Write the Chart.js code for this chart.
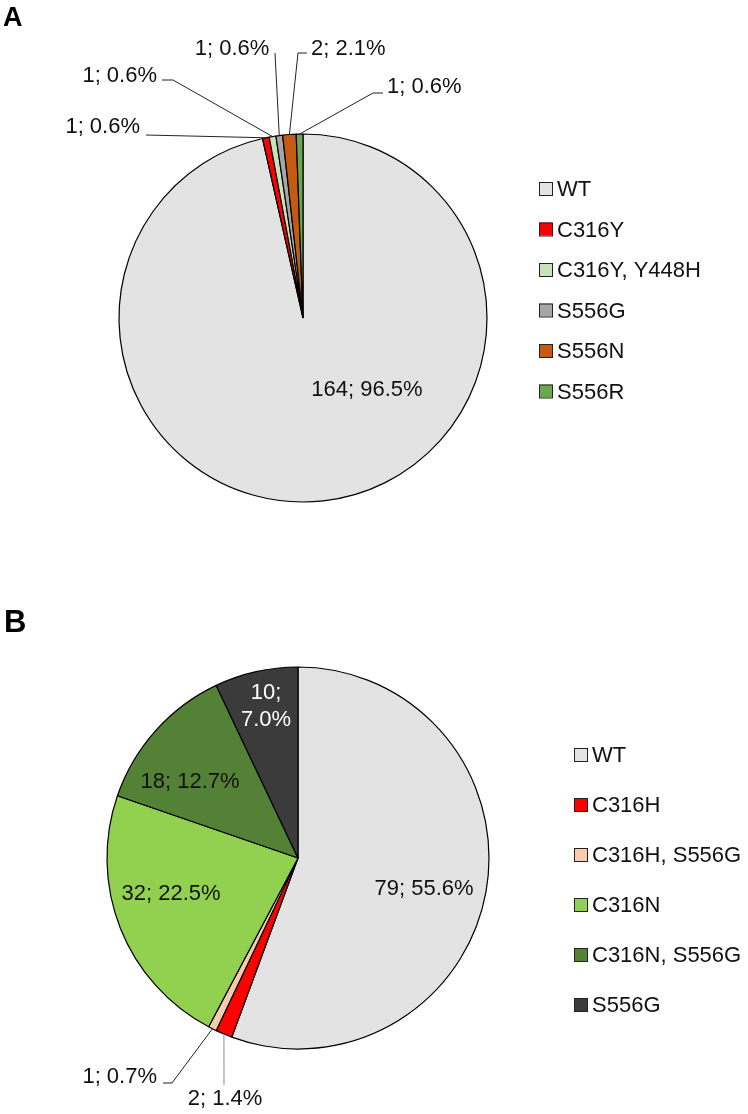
<!DOCTYPE html>
<html>
<head>
<meta charset="utf-8">
<script src="https://cdn.jsdelivr.net/npm/chart.js@4.4.1/dist/chart.umd.min.js"></script>
<style>
  body { margin: 0; background: #fff; width: 748px; height: 1114px; overflow: hidden; }
  canvas { position: absolute; left: 0; }
  #chartA { top: 0; }
  #chartB { top: 557px; }
</style>
</head>
<body>
<canvas id="chartA" width="748" height="557"></canvas>
<canvas id="chartB" width="748" height="557"></canvas>
<script>
// PANEL A
const categoriesA = ["WT", "C316Y", "C316Y, Y448H", "S556G", "S556N", "S556R"]
const countsA = [164, 1, 1, 1, 2, 1]
const percentsA = ["96.5%", "0.6%", "0.6%", "0.6%", "2.1%", "0.6%"]
const colorsA = ["#e3e3e3", "#ff0000", "#c8e2bb", "#a6a6a6", "#c55a11", "#6aa84f"]

// PANEL B
const categoriesB = ["WT", "C316H", "C316H, S556G", "C316N", "C316N, S556G", "S556G"]
const countsB = [79, 2, 1, 32, 18, 10]
const percentsB = ["55.6%", "1.4%", "0.7%", "22.5%", "12.7%", "7.0%"]
const colorsB = ["#e3e3e3", "#ff0000", "#f8cbad", "#92d050", "#538135", "#3b3b3b"]

const FONT = '"Liberation Sans", Arial, sans-serif'

// label placement: text anchor, alignment and leader line bends (canvas px)
const labelLayoutA = [
    { x: 367, y: 396, align: "center" },
    { x: 140, y: 133, align: "right", line: [[146, 135]] },
    { x: 157, y: 82, align: "right", line: [[162, 80], [173, 80]] },
    { x: 232, y: 55, align: "center", line: [[275, 53]] },
    { x: 311, y: 55, align: "left", line: [[307, 53], [298, 53]] },
    { x: 387, y: 93, align: "left", line: [[383, 93], [373, 93]] }
]
const labelLayoutB = [
    { x: 424, y: 338, align: "center" },
    { x: 225, y: 548, align: "center", line: [[224, 528]], lineColor: "#8c8c8c" },
    { x: 157, y: 526, align: "right", line: [[163, 526], [172, 526]] },
    { x: 171, y: 343, align: "center" },
    { x: 190, y: 231, align: "center" },
    { x: 266, y: 142, align: "center", wrap: true, color: "#ffffff" }
]

const sliceLabels = {
    id: "sliceLabels",
    afterDatasetsDraw(chart, args, opts) {
        const ctx = chart.ctx
        const arcs = chart.getDatasetMeta(0).data
        ctx.save()
        ctx.font = "22px " + FONT
        ctx.textBaseline = "alphabetic"
        opts.layout.forEach((lab, i) => {
            const text = opts.counts[i] + "; " + opts.percents[i]
            if (lab.line) {
                const a = arcs[i].getProps(["x", "y", "startAngle", "endAngle", "outerRadius"], true)
                const mid = (a.startAngle + a.endAngle) / 2
                ctx.beginPath()
                ctx.strokeStyle = lab.lineColor || "#222"
                ctx.lineWidth = 1
                ctx.moveTo(lab.line[0][0], lab.line[0][1])
                lab.line.slice(1).forEach(p => ctx.lineTo(p[0], p[1]))
                ctx.lineTo(a.x + Math.cos(mid) * a.outerRadius, a.y + Math.sin(mid) * a.outerRadius)
                ctx.stroke()
            }
            ctx.fillStyle = lab.color || "#111"
            ctx.textAlign = lab.align
            if (lab.wrap) {
                ctx.fillText(opts.counts[i] + ";", lab.x, lab.y)
                ctx.fillText(opts.percents[i], lab.x, lab.y + 27)
            } else {
                ctx.fillText(text, lab.x, lab.y)
            }
        })

        // LEGEND
        const lg = opts.legend
        chart.data.labels.forEach((name, i) => {
            const by = lg.y + i * lg.step
            ctx.fillStyle = chart.data.datasets[0].backgroundColor[i]
            ctx.fillRect(lg.x, by - 14, 13, 13)
            ctx.strokeStyle = "#222"
            ctx.lineWidth = 1
            ctx.strokeRect(lg.x + 0.5, by - 13.5, 13, 13)
            ctx.fillStyle = "#111"
            ctx.textAlign = "left"
            ctx.fillText(name, lg.x + 18, by)
        })

        // PANEL LETTER
        ctx.font = "bold " + opts.title.size + "px " + FONT
        ctx.fillStyle = "#000"
        ctx.fillText(opts.title.text, opts.title.x, opts.title.y)
        ctx.restore()
    }
}

function buildPie(canvasId, categories, counts, colors, extra) {
    const data = {
        labels: categories,
        datasets: [{
            data: counts,
            backgroundColor: colors,
            borderColor: "#000",
            borderWidth: 1.2
        }]
    }
    return new Chart(document.querySelector(canvasId), {
        type: "pie",
        data,
        options: {
            responsive: false,
            animation: false,
            devicePixelRatio: 1,
            radius: extra.radius,
            layout: { padding: extra.padding },
            plugins: {
                legend: { display: false },
                tooltip: { enabled: false },
                sliceLabels: extra.labels
            }
        },
        plugins: [sliceLabels]
    })
}

buildPie("#chartA", categoriesA, countsA, colorsA, {
    radius: 184,
    padding: { left: 103, right: 245, top: 118, bottom: 39 },
    labels: {
        counts: countsA, percents: percentsA, layout: labelLayoutA,
        legend: { x: 539, y: 196, step: 40.5 },
        title: { text: "A", x: 3, y: 26, size: 27 }
    }
})

buildPie("#chartB", categoriesB, countsB, colorsB, {
    radius: 191,
    padding: { left: 98, right: 250, top: 101, bottom: 56 },
    labels: {
        counts: countsB, percents: percentsB, layout: labelLayoutB,
        legend: { x: 574, y: 205, step: 50 },
        title: { text: "B", x: 4, y: 75, size: 31 }
    }
})
</script>
</body>
</html>
